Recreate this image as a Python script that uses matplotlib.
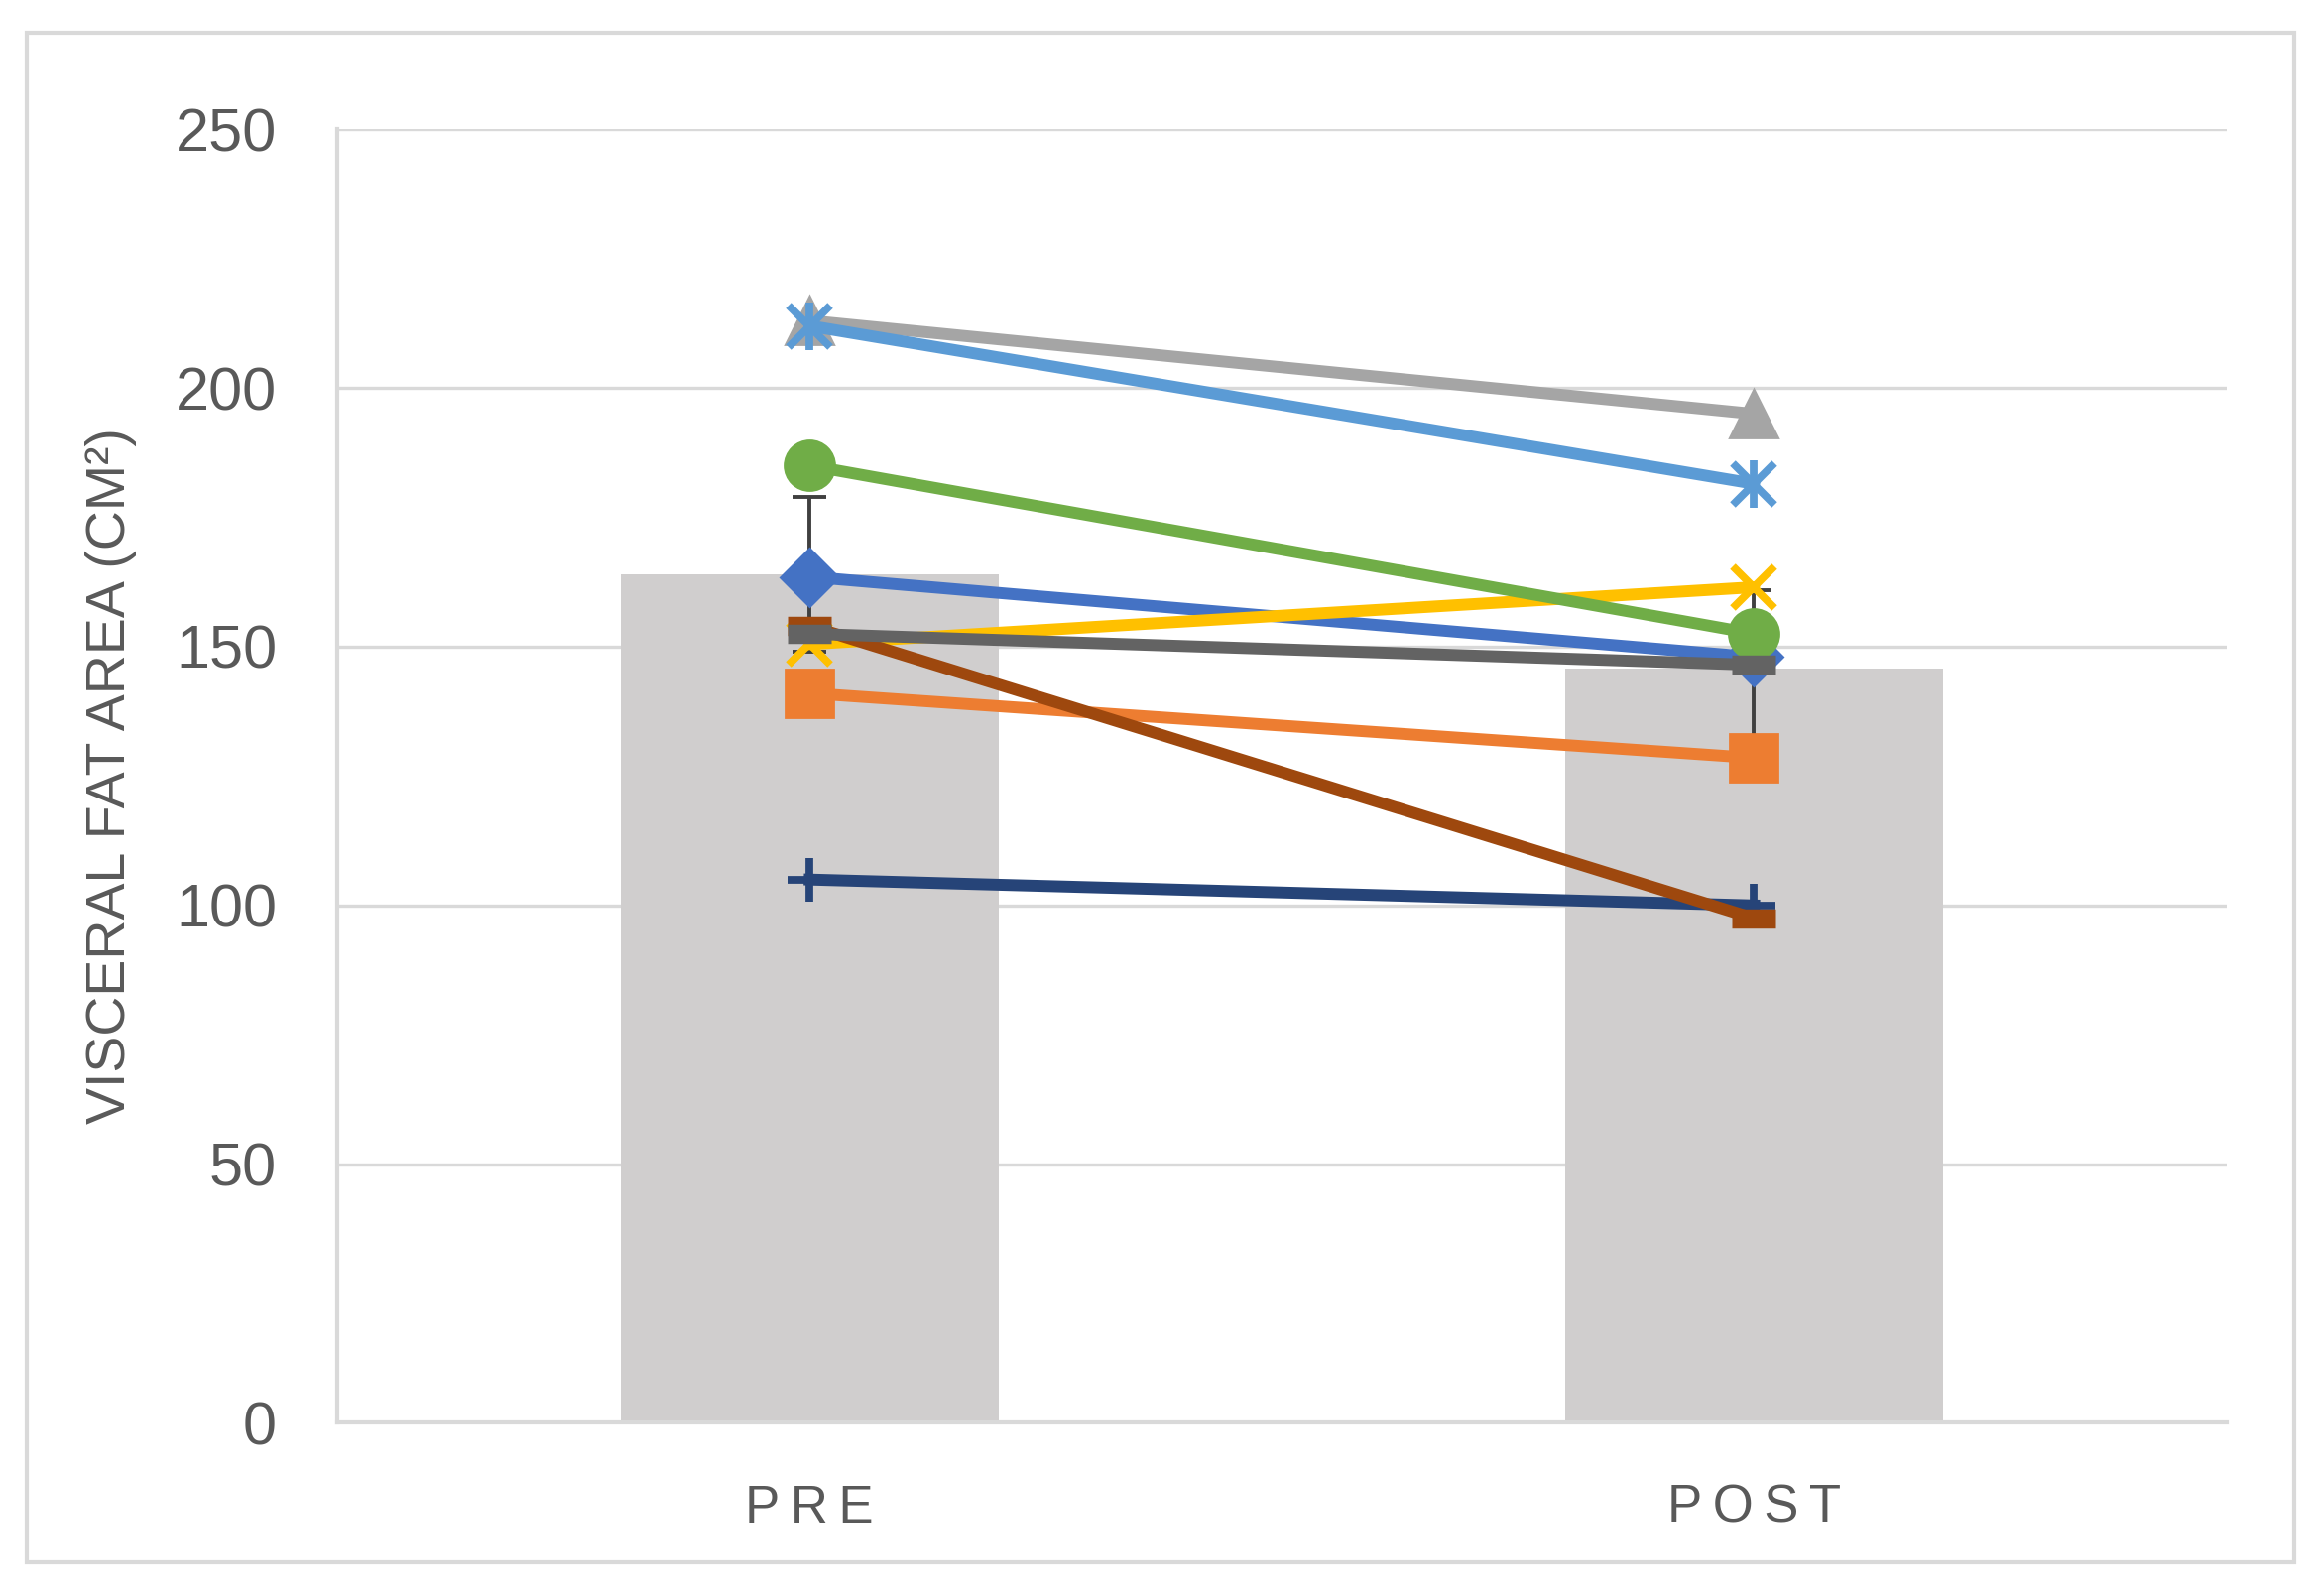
import matplotlib
matplotlib.use("Agg")
import matplotlib.pyplot as plt
from matplotlib.patches import Rectangle

# groups and summary bars (mean +/- SD)
groups = ["PRE", "POST"]
group_labels = ["P\u2009R\u2009E", "P\u2009O\u2009S\u2009T"]
mean_vals = [164.0, 145.7]
sd_vals = [15.0, 15.3]

# individual subjects, pre and post (Excel series order)
s1 = [163.5, 148.0]   # blue diamond
s2 = [141.0, 128.5]   # orange square
s3 = [213.0, 195.0]   # gray triangle
s4 = [150.5, 161.5]   # yellow x
s5 = [212.0, 181.5]   # light blue star
s6 = [185.0, 152.5]   # green circle
s7 = [105.0, 100.0]   # navy plus
s8 = [154.0, 97.5]    # brown dash
s9 = [152.5, 146.5]   # dark gray dash

TXT = "#595959"
GRID = "#D9D9D9"

plt.rcParams['font.family'] = ['Liberation Sans', 'DejaVu Sans']

fig = plt.figure(figsize=(11.7, 8.045), dpi=200)
ax = fig.add_axes([0.1454, 0.1085, 0.8138, 0.8105])

# chart area border
fig.patches.append(Rectangle((0.0115, 0.0213), 0.977, 0.9583, transform=fig.transFigure,
                             fill=False, edgecolor=GRID, linewidth=1.5))

x = [0, 1]
ax.bar(x, mean_vals, width=0.4, color="#D0CECE", zorder=2)
ax.errorbar(x, mean_vals, yerr=sd_vals, fmt="none", ecolor="#404040",
            elinewidth=1.4, capsize=6, capthick=1.4, zorder=3)

lw = 4.3
ax.plot(x, s1, color="#4472C4", lw=lw, marker="D", ms=15, zorder=4)
ax.plot(x, s2, color="#ED7D31", lw=lw, marker="s", ms=17, zorder=5)
ax.plot(x, s3, color="#A5A5A5", lw=lw, marker="^", ms=17, zorder=6)
ax.plot(x, s4, color="#FFC000", lw=lw, marker="x", ms=15, mew=2.8, zorder=7)
ax.plot(x, s5, color="#5B9BD5", lw=lw, marker="x", ms=15, mew=2.8, zorder=8)
ax.plot(x, s5, color="#5B9BD5", lw=0, marker="|", ms=17, mew=2.8, zorder=8)
ax.plot(x, s6, color="#70AD47", lw=lw, marker="o", ms=18, zorder=9)
ax.plot(x, s7, color="#264478", lw=lw, marker="+", ms=16, mew=2.8, zorder=10)
ax.plot(x, s8, color="#9E480E", lw=lw, marker="_", ms=16, mew=7, zorder=11)
ax.plot(x, s9, color="#636363", lw=lw, marker="_", ms=16, mew=7, zorder=12)

ax.set_xlim(-0.5, 1.5)
ax.set_ylim(0, 250)
ax.set_yticks([0, 50, 100, 150, 200, 250])
ax.set_xticks(x)
ax.set_xticklabels(group_labels)

ax.grid(axis="y", color=GRID, linewidth=1.2, zorder=0)
ax.set_axisbelow(True)
for side in ["top", "right"]:
    ax.spines[side].set_visible(False)
for side in ["left", "bottom"]:
    ax.spines[side].set_color(GRID)
    ax.spines[side].set_linewidth(1.5)

ax.tick_params(axis="y", length=0, pad=22, labelsize=22, labelcolor=TXT)
ax.tick_params(axis="x", length=0, pad=22, labelsize=19, labelcolor=TXT)

ax.set_ylabel("VISCERAL FAT AREA (CM²)", fontsize=20, color=TXT, labelpad=14)

fig.savefig("out.png", dpi=200)
